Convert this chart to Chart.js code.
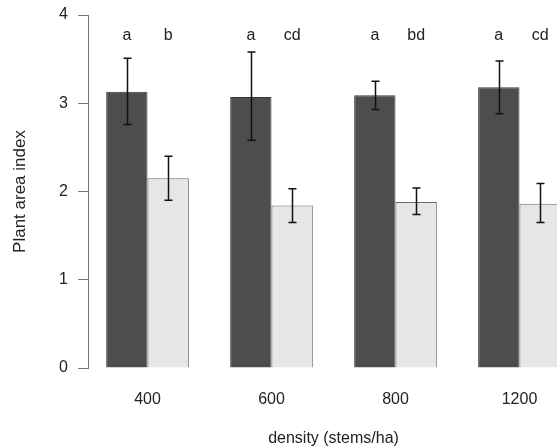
<!DOCTYPE html>
<html>
<head>
<meta charset="utf-8">
<script src="https://cdn.jsdelivr.net/npm/chart.js@4/dist/chart.umd.min.js"></script>
<style>
  html, body { margin: 0; padding: 0; background: #fff; overflow: hidden; }
  #wrap { width: 557px; height: 446px; overflow: hidden; }
</style>
</head>
<body>
<div id="wrap"><canvas id="chart" width="600" height="448"></canvas></div>
<script>
/* ── data ── */
const densities  = ['400', '600', '800', '1200'];
const darkMeans  = [3.13, 3.07, 3.09, 3.18];
const darkLow    = [2.76, 2.58, 2.93, 2.88];
const darkHigh   = [3.51, 3.58, 3.25, 3.48];
const lightMeans = [2.15, 1.84, 1.88, 1.86];
const lightLow   = [1.90, 1.65, 1.74, 1.65];
const lightHigh  = [2.40, 2.03, 2.04, 2.09];
const darkLetters  = ['a', 'a', 'a', 'a'];
const lightLetters = ['b', 'cd', 'bd', 'cd'];
const yTicks = [0, 1, 2, 3, 4];
const letterLevel = 3.72;

const FONT = '"Liberation Sans", Arial, Helvetica, sans-serif';

// R barplot(beside) style: two bars per group, one bar width gap between groups
const groupX = i => 2 + 3 * i;

/* ── error bars + significance letters ── */
const extras = {
  id: 'extras',
  afterDatasetsDraw(chart){
    const { ctx, scales: { y } } = chart;
    const lows  = [darkLow, lightLow];
    const highs = [darkHigh, lightHigh];
    const letters = [darkLetters, lightLetters];
    ctx.save();
    chart.data.datasets.forEach((ds, di) => {
      const meta = chart.getDatasetMeta(di);
      meta.data.forEach((bar, i) => {
        const x  = Math.round(bar.x) + 0.5;
        const y1 = y.getPixelForValue(lows[di][i]);
        const y2 = y.getPixelForValue(highs[di][i]);
        ctx.strokeStyle = '#111';
        ctx.lineWidth = 1.5;
        ctx.beginPath();
        ctx.moveTo(x, y1); ctx.lineTo(x, y2);
        ctx.moveTo(x - 4, y1); ctx.lineTo(x + 4, y1);
        ctx.moveTo(x - 4, y2); ctx.lineTo(x + 4, y2);
        ctx.stroke();

        ctx.fillStyle = '#222';
        ctx.font = `16px ${FONT}`;
        ctx.textAlign = 'center';
        ctx.textBaseline = 'alphabetic';
        ctx.fillText(letters[di][i], bar.x, y.getPixelForValue(letterLevel));
      });
    });
    ctx.restore();
  }
};

new Chart(document.getElementById('chart'), {
  type: 'bar',
  data: {
    datasets: [
      {
        label: 'dark',
        data: darkMeans.map((v, i) => ({ x: groupX(i), y: v })),
        backgroundColor: '#4d4d4d', borderColor: '#3a3a3a', borderWidth: 1
      },
      {
        label: 'light',
        data: lightMeans.map((v, i) => ({ x: groupX(i), y: v })),
        backgroundColor: '#e6e6e6', borderColor: '#6a6a6a', borderWidth: 1
      }
    ]
  },
  options: {
    responsive: false,
    devicePixelRatio: 1,
    animation: false,
    categoryPercentage: 2 / 3,
    barPercentage: 1,
    layout: { padding: { top: 15, right: 21, left: 0, bottom: 0 } },
    plugins: { legend: { display: false }, tooltip: { enabled: false } },
    scales: {
      x: {
        type: 'linear',
        offset: false,
        min: 0.56, max: 12.44,
        afterBuildTicks: s => { s.ticks = densities.map((d, i) => ({ value: groupX(i) })); },
        afterFit: s => { s.height = 80; },
        ticks: {
          callback: (v, i) => densities[i],
          autoSkip: false, maxRotation: 0,
          color: '#222', font: { family: FONT, size: 16 }, padding: 22
        },
        grid: { display: false, drawTicks: false, tickLength: 0 },
        border: { display: false },
        title: {
          display: true, text: 'density (stems/ha)',
          color: '#222', font: { family: FONT, size: 16 }, padding: { top: 0, bottom: 0 }
        }
      },
      y: {
        min: 0, max: 4,
        afterBuildTicks: s => { s.ticks = yTicks.map(v => ({ value: v })); },
        afterFit: s => { s.width = 88; s.paddingTop = 0; s.paddingBottom = 0; },
        ticks: { color: '#222', font: { family: FONT, size: 16 }, padding: 10 },
        grid: { drawOnChartArea: false, drawTicks: true, tickLength: 10, color: '#777' },
        border: { display: true, color: '#777', width: 1 },
        title: {
          display: true, text: 'Plant area index',
          color: '#222', font: { family: FONT, size: 17 }, padding: { top: 10, bottom: 0 }
        }
      }
    }
  },
  plugins: [extras]
});
</script>
</body>
</html>
